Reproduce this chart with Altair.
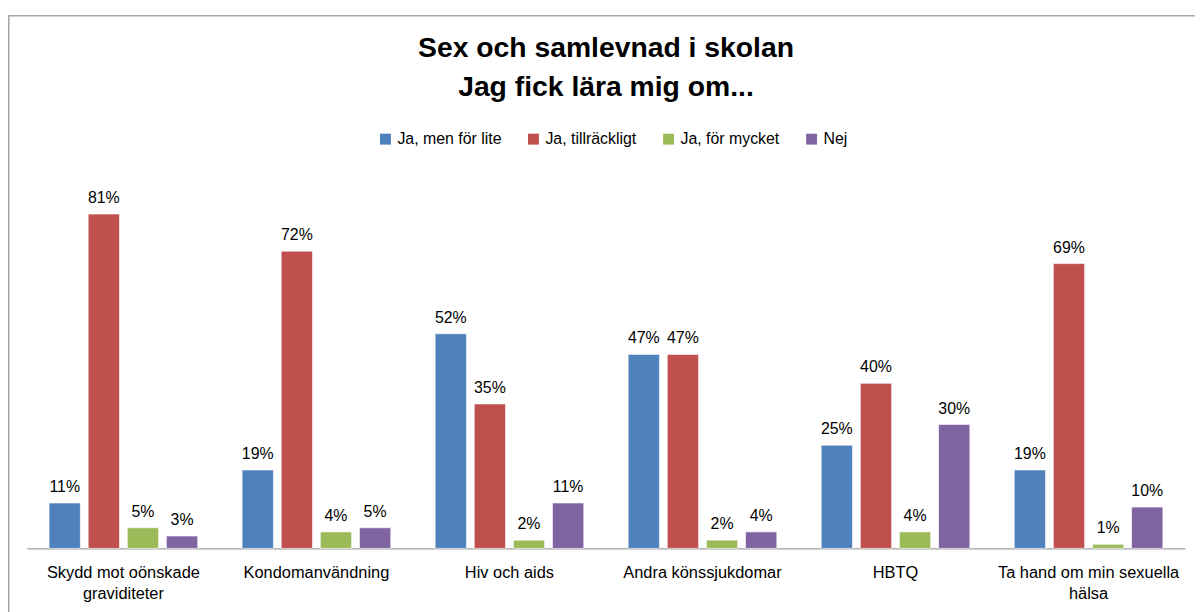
import altair as alt
import pandas as pd

categories = [
    "Skydd mot oönskade graviditeter",
    "Kondomanvändning",
    "Hiv och aids",
    "Andra könssjukdomar",
    "HBTQ",
    "Ta hand om min sexuella hälsa",
]
series = ["Ja, men för lite", "Ja, tillräckligt", "Ja, för mycket", "Nej"]
ja_men_for_lite = [0.11, 0.19, 0.52, 0.47, 0.25, 0.19]
ja_tillrackligt = [0.81, 0.72, 0.35, 0.47, 0.40, 0.69]
ja_for_mycket = [0.05, 0.04, 0.02, 0.02, 0.04, 0.01]
nej = [0.03, 0.05, 0.11, 0.04, 0.30, 0.10]
colors = ["#4F81BD", "#C0504D", "#9BBB59", "#8064A2"]

rows = []
for s, vals in zip(series, [ja_men_for_lite, ja_tillrackligt, ja_for_mycket, nej]):
    for c, v in zip(categories, vals):
        rows.append({"kategori": c, "svar": s, "andel": v})
df = pd.DataFrame(rows)

label_expr = (
    "datum.value == 'Skydd mot oönskade graviditeter' ? ['Skydd mot oönskade', 'graviditeter'] : "
    "datum.value == 'Ta hand om min sexuella hälsa' ? ['Ta hand om min sexuella', 'hälsa'] : datum.value"
)

FONT = "Liberation Sans"
W, H = 1166, 374

x_enc = alt.X(
    "kategori:N",
    sort=categories,
    scale=alt.Scale(paddingInner=0.23, paddingOuter=0.115),
    axis=alt.Axis(
        title=None,
        labelAngle=0,
        labelExpr=label_expr,
        labelFontSize=16.5,
        labelFont=FONT,
        labelColor="#000000",
        labelPadding=16,
        labelLineHeight=21,
        labelBaseline="top",
        ticks=False,
        domainColor="#868686",
        domainWidth=1,
        labelLimit=400,
    ),
)
xoff = alt.XOffset("svar:N", sort=series, scale=alt.Scale(paddingInner=0.2, paddingOuter=0))
y_enc = alt.Y("andel:Q", scale=alt.Scale(domain=[0, 0.9]), axis=None)

base = alt.Chart(df)
bars = base.mark_bar(stroke="white", strokeWidth=0.6).encode(
    x=x_enc,
    xOffset=xoff,
    y=y_enc,
    color=alt.Color(
        "svar:N",
        sort=series,
        scale=alt.Scale(domain=series, range=colors),
        legend=alt.Legend(
            title=None,
            orient="none",
            legendX=353,
            legendY=-46,
            direction="horizontal",
            symbolType="square",
            symbolSize=121,
            symbolStrokeWidth=0,
            labelFontSize=16,
            labelFont=FONT,
            labelColor="#000000",
            labelOffset=4,
            columnPadding=24,
        ),
    ),
)
texts = base.mark_text(
    baseline="alphabetic", dy=-11, fontSize=16, font=FONT, color="#000000"
).encode(
    x=x_enc,
    xOffset=xoff,
    y=y_enc,
    text=alt.Text("andel:Q", format=".0%"),
)

frame = alt.Chart(pd.DataFrame({"f": [0]})).mark_rect(
    fill=None, stroke="#A6A6A6", strokeWidth=1.5
).encode(
    x=alt.value(-18.25),
    x2=alt.value(W + 200),
    y=alt.value(-162.25),
    y2=alt.value(H + 200),
)

chart = (
    alt.layer(frame, bars, texts)
    .properties(
        width=W,
        height=H,
        autosize="none",
        padding={"left": 19, "top": 168, "right": 10, "bottom": 62},
        title=alt.TitleParams(
            text=["Sex och samlevnad i skolan", "Jag fick lära mig om..."],
            anchor="middle",
            fontSize=28.5,
            font=FONT,
            fontWeight="bold",
            color="#000000",
            lineHeight=39,
            offset=-87,
        ),
    )
    .configure_view(stroke=None)
)

chart.save("out.html", embed_options={"renderer": "svg", "actions": False})
